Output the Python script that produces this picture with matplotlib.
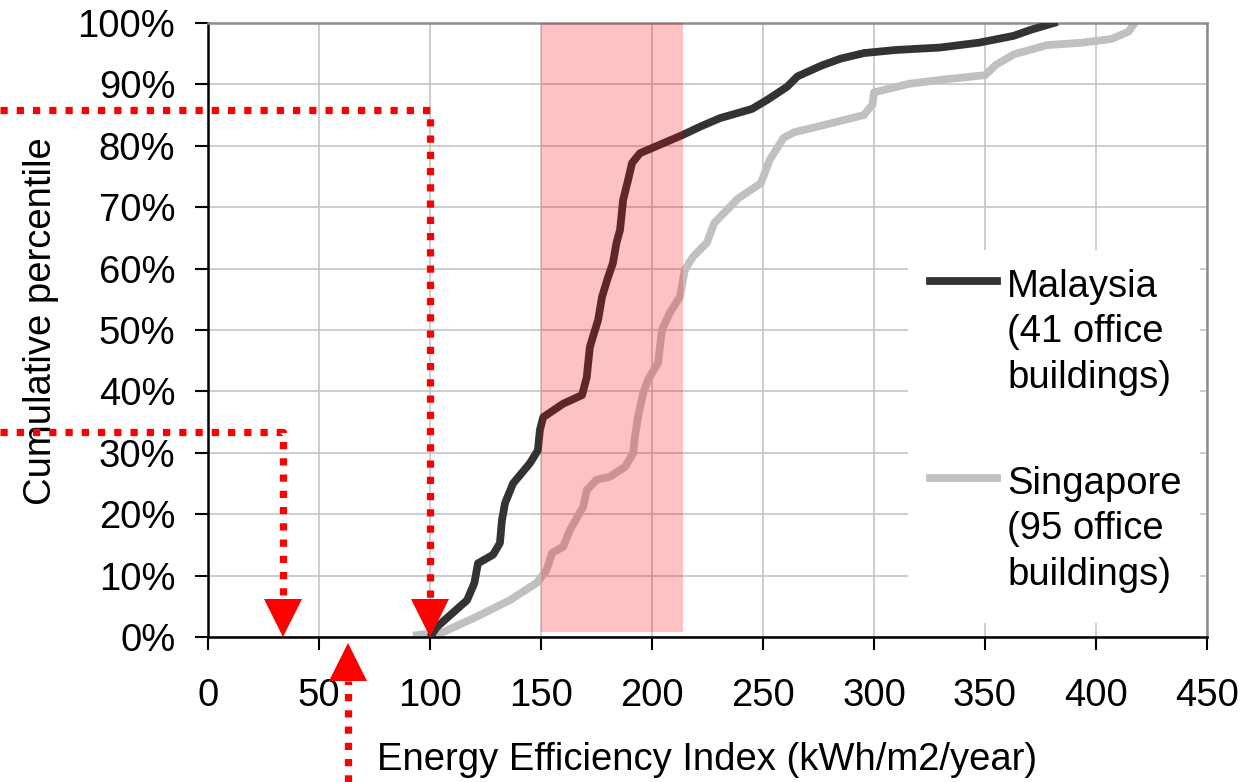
import matplotlib
matplotlib.use("Agg")
import matplotlib.pyplot as plt
from matplotlib.lines import Line2D
from matplotlib.patches import Rectangle
from matplotlib.transforms import offset_copy

plt.rcParams["font.family"] = ["Liberation Sans", "DejaVu Sans"]

# Cumulative EEI distributions
my_eei = [101, 103, 116.7, 120, 121.6, 128.4, 131.5, 132.4, 133.8, 137.4, 145, 148.6,
          149.5, 151, 160, 168.5, 170.6, 172, 173.4, 175.7, 177.5, 180.2, 182.4, 184,
          185.6, 187, 189.2, 191, 194.6, 205, 214, 221.6, 230.6, 245, 252, 260.8, 265.5,
          276.6, 285, 295.5, 309.5, 329.7, 347.3, 362.8, 370.7, 381]
my_pct = [0.5, 1.6, 6, 8.8, 12, 13.4, 15.3, 19, 21.8, 25, 28.3, 30.4,
          33.7, 35.8, 38, 39.4, 42.3, 47.2, 48.9, 51.6, 55.4, 58.6, 60.9, 64.2,
          66.3, 71.2, 74.4, 77.2, 78.8, 80.4, 81.8, 83.1, 84.5, 86, 87.5, 89.6, 91.3,
          93.1, 94.2, 95.1, 95.6, 96.0, 96.8, 97.9, 98.9, 100]

sg_eei = [94, 106, 121, 136, 148, 152.5, 155, 160, 163, 169, 170.6, 175, 181, 187.8,
          191.5, 192.3, 193.7, 196, 198.2, 202.7, 204.5, 208, 212.6, 214.8, 218.4, 224.7,
          228, 238.7, 249, 253, 259.3, 264, 276.6, 295.4, 299.3, 300, 315.8, 331.5, 350,
          355, 363, 378, 394, 407, 414.7, 417]
sg_pct = [0.3, 0.8, 3.3, 6, 8.8, 10.9, 13.7, 14.7, 17.4, 21.2, 23.9, 25.6, 26.1, 27.7,
          29.9, 32.6, 35.8, 39.7, 41.9, 44.6, 50, 52.8, 55.4, 59.8, 61.9, 64.2,
          67.4, 71.4, 73.9, 77.7, 81.3, 82.2, 83.3, 85, 86.7, 88.7, 90.1, 90.8, 91.5,
          93.2, 94.9, 96.4, 96.8, 97.4, 98.6, 99.8]

labels = ["Malaysia\n(41 office\nbuildings)", "Singapore\n(95 office\nbuildings)"]
colors = ["#333333", "#C0C0C0"]

# highlighted band and red guide lines
band_eei = [150, 214]
band_pct = [0.8, 100]
guide_eei = [100, 34]        # where the down arrows land
guide_pct = [85.8, 33.4]     # where the horizontal guides sit
up_eei = 63                  # upward arrow under the axis
up_tip_pct = -1.0

x_ticks = list(range(0, 451, 50))
y_ticks = list(range(0, 101, 10))

FS = 27.5
RED = "#FF0000"
W, H = 1246, 782


def fig_xy(px, py):
    # pixel position (from top-left) -> figure fraction
    return px / W, 1 - py / H


fig = plt.figure(figsize=(W / 100, H / 100), dpi=100)
ax = fig.add_axes([208 / W, 1 - 637 / H, (1207 - 208) / W, (637 - 23) / H])
ax.set_xlim(0, 450)
ax.set_ylim(0, 100)

# grid + spines
ax.set_xticks(x_ticks)
ax.set_yticks(y_ticks)
ax.set_yticklabels([f"{v}%" for v in y_ticks])
ax.grid(True, color="#C0C0C0", lw=1.1, zorder=0)
ax.set_axisbelow(True)
for side in ["top", "right"]:
    ax.spines[side].set_color("#8C8C8C")
    ax.spines[side].set_linewidth(1.8)
for side in ["left", "bottom"]:
    ax.spines[side].set_color("black")
    ax.spines[side].set_linewidth(1.8)
ax.tick_params(direction="out", length=9.5, width=1.5, labelsize=FS,
               top=False, right=False)
ax.tick_params(axis="x", pad=20)
ax.tick_params(axis="y", pad=14)

# curves
ax.plot(my_eei, my_pct, color=colors[0], lw=5.6, solid_joinstyle="round", zorder=3)
ax.plot(sg_eei, sg_pct, color=colors[1], lw=5.6, solid_joinstyle="round", zorder=2)

# pink band drawn over the curves
ax.fill_between(band_eei, band_pct[0], band_pct[1], color=RED, alpha=0.24,
                lw=0, zorder=4)

# red dotted guides, running off the left edge of the figure
x_left, y_bottom = ax.transData.inverted().transform(fig.transFigure.transform((0, 0)))
px_per_pct = (637 - 23) / 100
head = 38  # arrowhead size in px
head_pct = head / px_per_pct
dots = dict(color=RED, lw=5.2, ls=(0, (1, 1.25)), clip_on=False, zorder=6)
for gx, gy in zip(guide_eei, guide_pct):
    ax.plot([x_left, gx, gx], [gy, gy, head_pct], **dots)
    tri = offset_copy(ax.transData, fig=fig, x=0, y=head / 2, units="dots")
    ax.plot([gx], [0], marker="v", ms=head * 0.72, color=RED, mew=0,
            transform=tri, clip_on=False, zorder=7)

ax.plot([up_eei, up_eei], [y_bottom, up_tip_pct - head_pct], **dots)
tri = offset_copy(ax.transData, fig=fig, x=0, y=-head / 2, units="dots")
ax.plot([up_eei], [up_tip_pct], marker="^", ms=head * 0.72, color=RED, mew=0,
        transform=tri, clip_on=False, zorder=7)

# axis labels
ax.set_xlabel("Energy Efficiency Index (kWh/m2/year)", fontsize=FS, labelpad=20.5)
ax.set_ylabel("Cumulative percentile", fontsize=FS)
ax.yaxis.set_label_coords(-0.149, 0.515)

# legend drawn by hand: handle sits on the first text line, white box hides grid
box_x0, box_y0 = fig_xy(908, 623)
box_x1, box_y1 = fig_xy(1200, 250)
ax.add_patch(Rectangle((box_x0, box_y0), box_x1 - box_x0, box_y1 - box_y0,
                       transform=fig.transFigure, facecolor="white",
                       edgecolor="none", zorder=5))
# baseline of the last text line in each entry
for label, color, line_y, base_y in zip(labels, colors, [281, 478], [388, 585]):
    hx0, hy = fig_xy(930, line_y)
    hx1, _ = fig_xy(997, line_y)
    ax.add_line(Line2D([hx0, hx1], [hy, hy], color=color, lw=5.6,
                       transform=fig.transFigure, zorder=6))
    tx, ty = fig_xy(1007, base_y)
    ax.text(tx, ty, label, transform=fig.transFigure, fontsize=FS, ha="left",
            va="baseline", linespacing=1.34, zorder=6)

fig.savefig("out.png", dpi=100)
